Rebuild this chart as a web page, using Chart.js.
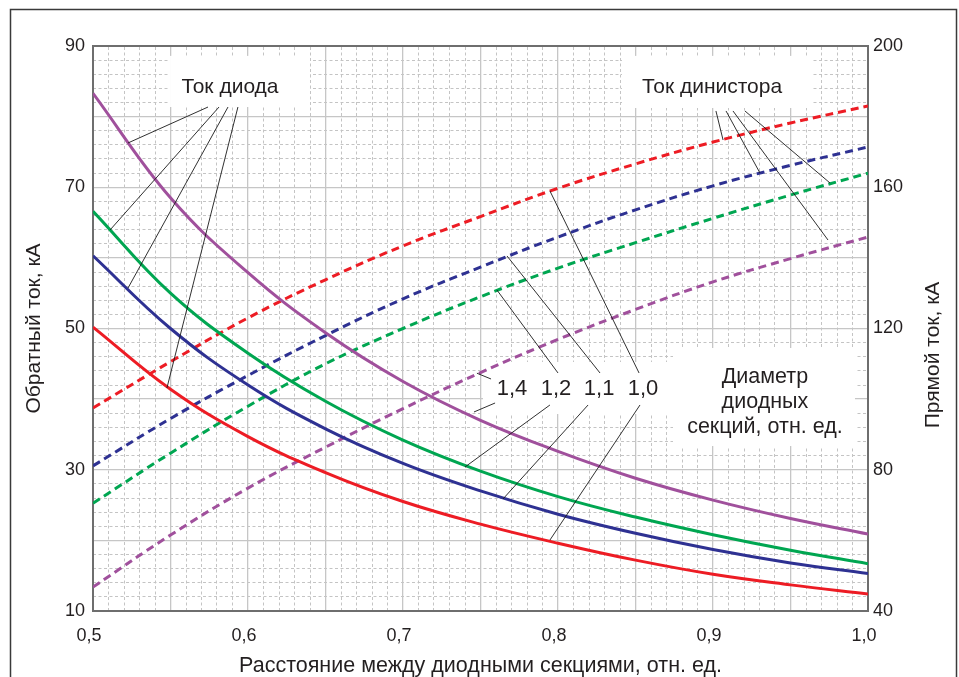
<!DOCTYPE html>
<html>
<head>
<meta charset="utf-8">
<style>
html,body{margin:0;padding:0;background:#fff;}
canvas{display:block;}
</style>
<script src="https://cdn.jsdelivr.net/npm/chart.js@4.4.1/dist/chart.umd.min.js"></script>
</head>
<body>
<canvas id="c" width="959" height="677"></canvas>
<script>
// ---- data ----
const xValues = [0.50, 0.55, 0.60, 0.65, 0.70, 0.75, 0.80, 0.85, 0.90, 0.95, 1.00];

// Ток диода (обратный ток, кА), left axis
const diode14 = [83.3, 68.5, 57.9, 49.4, 42.5, 37.0, 32.6, 28.8, 25.7, 23.1, 20.9];
const diode12 = [66.6, 55.0, 46.5, 39.7, 34.2, 29.8, 26.2, 23.3, 20.8, 18.6, 16.7];
const diode11 = [60.3, 50.0, 42.0, 35.8, 30.9, 27.0, 23.7, 21.0, 18.7, 16.8, 15.3];
const diode10 = [50.2, 41.4, 34.7, 29.6, 25.5, 22.3, 19.6, 17.2, 15.2, 13.7, 12.4];

// Ток динистора (прямой ток, кА), right axis
const dinistor10 = [97.5, 110.6, 123.0, 133.8, 143.4, 151.7, 159.7, 166.6, 172.8, 178.2, 183.0];
const dinistor11 = [81.1, 94.5, 106.7, 118.0, 128.4, 137.4, 145.9, 153.6, 160.4, 166.2, 171.4];
const dinistor12 = [70.5, 84.7, 98.0, 110.0, 120.0, 129.0, 137.1, 144.3, 151.2, 157.8, 164.0];
const dinistor14 = [46.8, 61.5, 74.8, 86.4, 97.3, 107.5, 116.9, 125.4, 133.2, 139.8, 145.9];

const leftTicks = [10, 30, 50, 70, 90];
const rightTicks = [40, 80, 120, 160, 200];
const xTickLabels = [0.5, 0.6, 0.7, 0.8, 0.9, 1.0];

// annotation texts
const diodeTitle = 'Ток диода';
const dinistorTitle = 'Ток динистора';
const diameterLabels = ['1,4', '1,2', '1,1', '1,0'];
const diameterTitle = ['Диаметр', 'диодных', 'секций, отн. ед.'];

// ---- styles ----
const FONT = '"Liberation Sans", Arial, Helvetica, sans-serif';
const TXT = '#231f20';
const RED = '#ed1c24', BLUE = '#2e3192', GREEN = '#00a651', PURPLE = '#a0509c';
const MAJOR = '#c6c6c6', MINOR = '#c4c4c4', AXIS = '#6e6e6e';

// annotation geometry in data units (x, left-axis value)
const boxes = [
  [0.5497, 0.6400, 88.6, 81.36],
  [0.8413, 0.9639, 88.6, 81.22],
  [0.7516, 0.8742, 45.26, 37.89],
  [0.8742, 0.9916, 47.24, 33.36]
];
const leaders = [
  [0.5742, 81.36, 0.5226, 76.27],
  [0.5813, 81.36, 0.5110, 63.95],
  [0.5871, 81.36, 0.5226, 55.73],
  [0.5935, 81.36, 0.5477, 41.58],
  [0.9019, 80.80, 0.9065, 76.69],
  [0.9084, 80.80, 0.9303, 72.02],
  [0.9129, 80.80, 0.9742, 62.53],
  [0.9206, 80.80, 0.9755, 70.60],
  [0.7568, 42.85, 0.7477, 43.67],
  [0.7594, 39.45, 0.7458, 38.18],
  [0.8000, 43.70, 0.7606, 55.45],
  [0.7948, 39.17, 0.7400, 30.39],
  [0.8271, 43.70, 0.7671, 60.27],
  [0.8194, 39.17, 0.7645, 25.86],
  [0.8523, 43.70, 0.7948, 69.47],
  [0.8529, 39.17, 0.7948, 20.05]
];
const labelPos = [0.7703, 0.7987, 0.8265, 0.8548];

const mk = arr => xValues.map((x, i) => ({x: x, y: arr[i]}));

function line(label, arr, color, axis, dashed) {
  return {
    label: label, data: mk(arr), borderColor: color, backgroundColor: color,
    borderWidth: 3, borderDash: dashed ? [8, 5] : [],
    pointRadius: 0, fill: false, tension: 0.4,
    xAxisID: 'x', yAxisID: axis
  };
}

const annot = {
  id: 'annot',
  beforeDraw(chart) {
    const ctx = chart.ctx;
    ctx.save();
    ctx.fillStyle = '#fff';
    ctx.fillRect(0, 0, chart.width, chart.height);
    ctx.strokeStyle = '#3a3a3a';
    ctx.lineWidth = 1.5;
    ctx.strokeRect(10.5, 9.5, 946, 720);
    ctx.restore();
  },
  beforeDatasetsDraw(chart) {
    const ctx = chart.ctx, sx = chart.scales.x, sy = chart.scales.y;
    ctx.save();
    ctx.fillStyle = '#fff';
    boxes.forEach(b => {
      const x1 = sx.getPixelForValue(b[0]), x2 = sx.getPixelForValue(b[1]);
      const y1 = sy.getPixelForValue(b[2]), y2 = sy.getPixelForValue(b[3]);
      ctx.fillRect(x1, y1, x2 - x1, y2 - y1);
    });
    ctx.restore();
  },
  afterDatasetsDraw(chart) {
    const ctx = chart.ctx, sx = chart.scales.x, sy = chart.scales.y, sy2 = chart.scales.y2;
    const X = v => sx.getPixelForValue(v), Y = v => sy.getPixelForValue(v);
    ctx.save();
    ctx.strokeStyle = '#1a1a1a';
    ctx.lineWidth = 0.9;
    leaders.forEach(l => {
      ctx.beginPath();
      ctx.moveTo(X(l[0]), Y(l[1]));
      ctx.lineTo(X(l[2]), Y(l[3]));
      ctx.stroke();
    });
    ctx.fillStyle = TXT;
    ctx.textAlign = 'center';
    ctx.textBaseline = 'middle';
    ctx.font = '21px ' + FONT;
    ctx.fillText(diodeTitle, X(0.5884), Y(84.19));
    ctx.fillText(dinistorTitle, X(0.8994), Y(84.19));
    ctx.font = '22px ' + FONT;
    diameterLabels.forEach((t, i) => ctx.fillText(t, X(labelPos[i]), Y(41.43)));
    ctx.font = '21.5px ' + FONT;
    const dy = [43.13, 39.59, 36.05];
    diameterTitle.forEach((t, i) => ctx.fillText(t, X(0.9335), Y(dy[i])));
    // right axis title, reading bottom-to-top
    ctx.font = '21px ' + FONT;
    ctx.translate(chart.width - 26, sy2.getPixelForValue(112.5));
    ctx.rotate(-Math.PI / 2);
    ctx.fillText('Прямой ток, кА', 0, 0);
    ctx.restore();
  }
};

const isMult = (v, step) => Math.abs(v / step - Math.round(v / step)) < 1e-6;

new Chart(document.getElementById('c'), {
  type: 'line',
  data: {
    datasets: [
      line('Ток диода, 1,4', diode14, PURPLE, 'y', false),
      line('Ток диода, 1,2', diode12, GREEN, 'y', false),
      line('Ток диода, 1,1', diode11, BLUE, 'y', false),
      line('Ток диода, 1,0', diode10, RED, 'y', false),
      line('Ток динистора, 1,0', dinistor10, RED, 'y2', true),
      line('Ток динистора, 1,1', dinistor11, BLUE, 'y2', true),
      line('Ток динистора, 1,2', dinistor12, GREEN, 'y2', true),
      line('Ток динистора, 1,4', dinistor14, PURPLE, 'y2', true)
    ]
  },
  options: {
    responsive: false,
    animation: false,
    devicePixelRatio: 1,
    layout: {padding: {top: 46, left: 0, right: 0, bottom: 0}},
    plugins: {legend: {display: false}, tooltip: {enabled: false}},
    scales: {
      xm: {
        type: 'linear', position: 'top', min: 0.5, max: 1.0,
        ticks: {display: false, stepSize: 0.01},
        grid: {color: c => isMult(c.tick.value, 0.05) ? 'rgba(0,0,0,0)' : MINOR, lineWidth: 1, drawTicks: false},
        border: {display: true, color: AXIS, width: 2, dash: [3, 2.5]},
        afterFit(s) { s.height = 0; }
      },
      ym: {
        type: 'linear', position: 'left', min: 10, max: 90,
        ticks: {display: false, stepSize: 2},
        grid: {color: c => isMult(c.tick.value, 10) ? 'rgba(0,0,0,0)' : MINOR, lineWidth: 1, drawTicks: false},
        border: {display: false, dash: [3, 2.5]},
        afterFit(s) { s.width = 0; }
      },
      x: {
        type: 'linear', position: 'bottom', min: 0.5, max: 1.0,
        ticks: {
          stepSize: 0.05, autoSkip: false, maxRotation: 0, padding: 14, labelOffset: -4,
          color: TXT, font: {family: FONT, size: 18},
          callback: v => xTickLabels.some(t => Math.abs(t - v) < 1e-6) ? v.toFixed(1).replace('.', ',') : ''
        },
        grid: {color: MAJOR, lineWidth: 1.3, drawTicks: false},
        border: {color: AXIS, width: 2},
        title: {display: true, text: 'Расстояние между диодными секциями, отн. ед.', color: TXT,
                font: {family: FONT, size: 21.5, lineHeight: 1}, padding: 0},
        afterFit(s) { s.height = 66; }
      },
      y: {
        type: 'linear', position: 'left', min: 10, max: 90,
        ticks: {
          stepSize: 10, autoSkip: false, padding: 8, color: TXT, font: {family: FONT, size: 18},
          callback: v => leftTicks.includes(v) ? String(v) : ''
        },
        grid: {color: MAJOR, lineWidth: 1.3, drawTicks: false},
        border: {color: AXIS, width: 2},
        title: {display: true, text: 'Обратный ток, кА', color: TXT,
                font: {family: FONT, size: 21}, padding: {top: 22, bottom: 0}},
        afterFit(s) { s.width = 93; }
      },
      y2: {
        type: 'linear', position: 'right', min: 40, max: 200,
        ticks: {
          stepSize: 40, autoSkip: false, padding: 5, color: TXT, font: {family: FONT, size: 18},
          callback: v => rightTicks.includes(v) ? String(v) : ''
        },
        grid: {drawOnChartArea: false, drawTicks: false},
        border: {color: AXIS, width: 2},
        afterFit(s) { s.width = 91; }
      }
    }
  },
  plugins: [annot]
});
</script>
</body>
</html>
